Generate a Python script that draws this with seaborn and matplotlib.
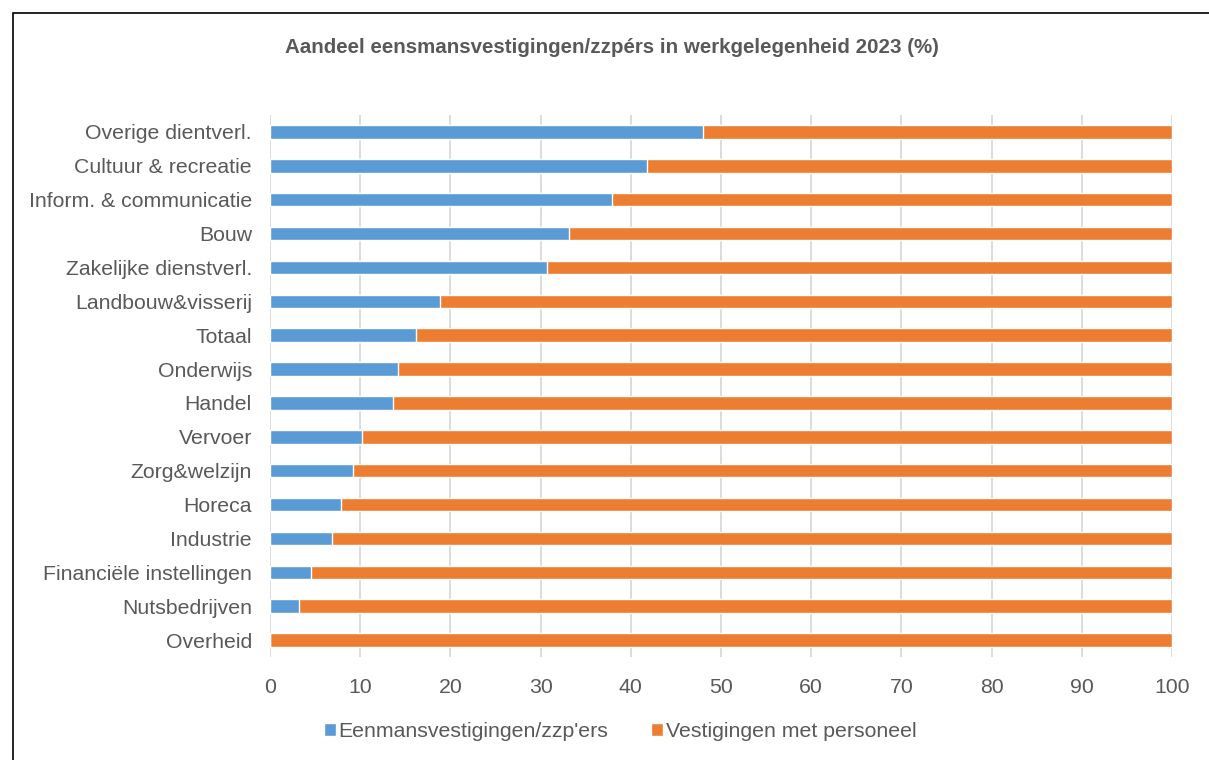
import pandas as pd
import seaborn as sns
import matplotlib.pyplot as plt
from matplotlib.patches import Rectangle, Patch

sectors = [
    "Overige dientverl.", "Cultuur & recreatie", "Inform. & communicatie", "Bouw",
    "Zakelijke dienstverl.", "Landbouw&visserij", "Totaal", "Onderwijs", "Handel",
    "Vervoer", "Zorg&welzijn", "Horeca", "Industrie", "Financiële instellingen",
    "Nutsbedrijven", "Overheid",
]
zzp_share = [48.0, 41.8, 37.9, 33.2, 30.7, 18.8, 16.2, 14.2, 13.6,
             10.2, 9.2, 7.9, 6.9, 4.6, 3.25, 0.0]
personeel_share = [100 - v for v in zzp_share]

BLUE = "#5B9BD5"
ORANGE = "#ED7D31"
GREY = "#595959"

df = pd.DataFrame({"sector": sectors, "zzp": zzp_share, "personeel": personeel_share})
df["total"] = df["zzp"] + df["personeel"]

sns.set_style("white")
plt.rcParams["font.family"] = ["Liberation Sans", "DejaVu Sans"]

fig = plt.figure(figsize=(12.09, 7.6), dpi=100)
ax = fig.add_axes([0.2233, 0.1355, 0.7461, 0.7132])

# stacked look: full bar in orange, zzp share drawn over it in blue
sns.barplot(data=df, y="sector", x="total", color=ORANGE, width=0.4,
            saturation=1, orient="h", ax=ax, zorder=3)
sns.barplot(data=df, y="sector", x="zzp", color=BLUE, width=0.4,
            saturation=1, orient="h", ax=ax, zorder=4)

ax.set_xlim(0, 100)
ax.set_ylim(len(sectors) - 0.5, -0.5)
ax.set_xticks(range(0, 101, 10))
ax.xaxis.grid(True, color="#D9D9D9", linewidth=1.3, zorder=0)
ax.yaxis.grid(False)
for s in ax.spines.values():
    s.set_visible(False)
ax.tick_params(axis="both", length=0, labelsize=15.3, labelcolor=GREY)
ax.tick_params(axis="x", pad=15)
ax.tick_params(axis="y", pad=13)
ax.set_xlabel("")
ax.set_ylabel("")

fig.text(0.506, 0.937, "Aandeel eensmansvestigingen/zzpérs in werkgelegenheid 2023 (%)",
         ha="center", va="center", fontsize=14.8, fontweight="bold", color=GREY)

handles = [Patch(facecolor=BLUE, label="Eenmansvestigingen/zzp'ers"),
           Patch(facecolor=ORANGE, label="Vestigingen met personeel")]
leg = fig.legend(handles=handles, loc="center", bbox_to_anchor=(0.513, 0.037), ncol=2,
                 frameon=False, fontsize=15.3, handlelength=0.55, handleheight=0.55,
                 handletextpad=0.15, columnspacing=2.0)
for t in leg.get_texts():
    t.set_color(GREY)

# outer chart frame (top and left edges visible in the reference)
fig.patches.append(Rectangle((13 / 1209, -0.05), 1.2, 1 - 13 / 760 + 0.05,
                             transform=fig.transFigure, fill=False,
                             edgecolor="black", linewidth=1.2))

fig.savefig("out.png", dpi=100)
